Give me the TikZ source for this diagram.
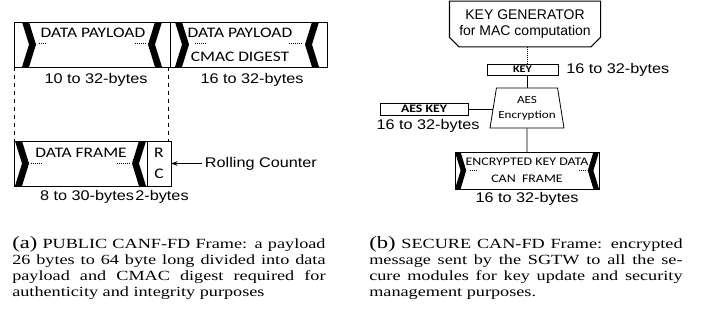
\documentclass[tikz,border=0pt]{standalone}
\usepackage{fontspec}
\setmainfont{Liberation Serif}
\newfontfamily\capfont[FakeStretch=1.3]{Liberation Serif}
\newfontfamily\arialw[FakeStretch=1.16]{Liberation Sans}
\newfontfamily\arialn{Liberation Sans}
\newfontfamily\calw[FakeStretch=1.2]{Carlito}
\usetikzlibrary{arrows.meta, shapes.geometric, shapes.misc, positioning}

\begin{document}
\begin{tikzpicture}[
  x=0.75pt, y=-0.75pt,
  frame/.style={rectangle, draw=black, line width=0.6pt, minimum height=45*0.75pt, inner sep=0pt, outer sep=0pt},
  flabel/.style={font=\calw\fontsize{10.9}{13}\selectfont, inner sep=1pt},
  blabel/.style={font=\arialw\fontsize{10.5}{12.6}\selectfont, inner sep=2pt},
  keybox/.style={rectangle, draw=black, line width=0.6pt, inner sep=0pt, outer sep=0pt},
  caption/.style={font=\capfont\fontsize{10.5}{12}\selectfont, text width=235pt, align=justify, inner sep=0pt},
  dotline/.style={densely dotted, line width=0.5pt},
  link/.style={line width=0.6pt},
  arrow/.style={-{Stealth[length=5pt, width=3.5pt]}, line width=0.6pt},
  startmark/.pic={\fill (0,0) -- (7,0) -- (14,22.5) -- (7,45) -- (0,45) -- (7,22.5) -- cycle;},
  endmark/.pic={\fill (0,0) -- (-7,0) -- (-14,22.5) -- (-7,45) -- (0,45) -- (-7,22.5) -- cycle;}
]
\useasboundingbox (0,0) rectangle (710,326);

% public CAN-FD frame
\node[frame, minimum width=156*0.75pt] (pay) at (92,44.5) {};
\node[frame, minimum width=157*0.75pt, right=0pt of pay] (mac) {};
\node[flabel] (payt) at (93,33) {DATA PAYLOAD};
\node[flabel] (mact) at (240,33) {DATA PAYLOAD};
\node[flabel] (cmac) at (240,57) {CMAC DIGEST};
\pic at (22,22) {startmark};
\pic at (162,22) {endmark};
\pic at (175,22) {startmark};
\pic at (319,22) {endmark};
\draw[dotline] (39,43) -- (47,43);
\draw[dotline] (135,43) -- (146,43);
\draw[dotline] (195,43) -- (207,43);
\draw[dotline] (289,43) -- (302,43);
\node[blabel] (payb) at (96,80) {10 to 32-bytes};
\node[blabel] (macb) at (252,80) {16 to 32-bytes};

\node[frame, minimum width=133*0.75pt] (dfr) at (80.5,163.5) {};
\node[frame, minimum width=24*0.75pt, right=0pt of dfr, align=center,
  font=\calw\fontsize{11}{13}\selectfont] (rc) {R\\[2.5pt]C};
\node[flabel] (dfrt) at (81,153) {DATA FRAME};
\pic at (15,141) {startmark};
\pic at (146,141) {endmark};
\draw[dotline] (31,163) -- (43,163);
\draw[dotline] (117,163) -- (131,163);
\node[blabel] (dfrb) at (87,197) {8 to 30-bytes};
\node[blabel] (rcb) at (162,197) {2-bytes};
\node[blabel, anchor=west] (roll) at (202,163.5) {Rolling Counter};

\draw[dashed, link] (pay.south west) -- (dfr.north west);
\draw[dashed, link] ([xshift=-2*0.75pt]pay.south east) -- ([xshift=-2*0.75pt]pay.south east |- rc.north);
\draw[arrow] (roll.west) -- (rc.east);

% secure CAN-FD frame
\node[chamfered rectangle, chamfered rectangle corners={south west, south east},
  chamfered rectangle xsep=4pt, draw, line width=0.8pt, minimum width=141*0.75pt,
  minimum height=42*0.75pt, align=center, font=\arialn\fontsize{10.5}{12}\selectfont]
  (keygen) at (525,24) {KEY GENERATOR\\for MAC computation};
\node[keybox, minimum width=71*0.75pt, minimum height=11*0.75pt,
  font=\calw\bfseries\fontsize{7.6}{9}\selectfont] (key) at (522.5,69.5) {KEY};
\node[blabel, right=4pt of key] (keyb) {16 to 32-bytes};
\node[trapezium, draw, line width=0.6pt, trapezium angle=76, trapezium stretches=true,
  minimum width=74*0.75pt, minimum height=40*0.75pt, inner sep=0pt, align=center,
  font=\calw\fontsize{8.2}{9.5}\selectfont] (aes) at (527,108) {AES\\[2pt]Encryption};
\node[keybox, minimum width=88*0.75pt, minimum height=12*0.75pt,
  font=\calw\bfseries\fontsize{8.6}{10}\selectfont] (aeskey) at (424,109) {AES KEY};
\node[blabel] (aeskeyb) at (428,126) {16 to 32-bytes};
\node[frame, minimum width=144*0.75pt, minimum height=37*0.75pt, align=center,
  font=\calw\fontsize{8.7}{10}\selectfont] (enc) at (527,170.5)
  {ENCRYPTED KEY DATA\\[2.7pt]CAN\ \ FRAME};
\pic[xscale=0.8, yscale=37/45] at (455,152) {startmark};
\pic[xscale=0.8, yscale=37/45] at (599,152) {endmark};
\draw[dotline] (470,170) -- (478,170);
\draw[dotline] (579,170) -- (586,170);
\node[blabel] (encb) at (527,199) {16 to 32-bytes};

\draw[dotline] (keygen.south -| aes.north) -- (key.north -| aes.north);
\draw[link] (key.south -| aes.north) -- (aes.north);
\draw[link] (aeskey.east) -- (aeskey.east -| aes.west);
\draw[link] (aes.south) -- (enc.north);

% captions
\node[caption, anchor=north west] (capa) at (12,236)
  {{\fontsize{13}{12}\selectfont (a)} PUBLIC CANF-FD Frame: a payload\linebreak
   26 bytes to 64 byte long divided into data\linebreak
   payload and CMAC digest required for\linebreak
   authenticity and integrity purposes};
\node[caption, anchor=north west] (capb) at (369,236)
  {{\fontsize{13}{12}\selectfont (b)} SECURE CAN-FD Frame: encrypted\linebreak
   message sent by the SGTW to all the se-\linebreak
   cure modules for key update and security\linebreak
   management purposes.};
\end{tikzpicture}
\end{document}
